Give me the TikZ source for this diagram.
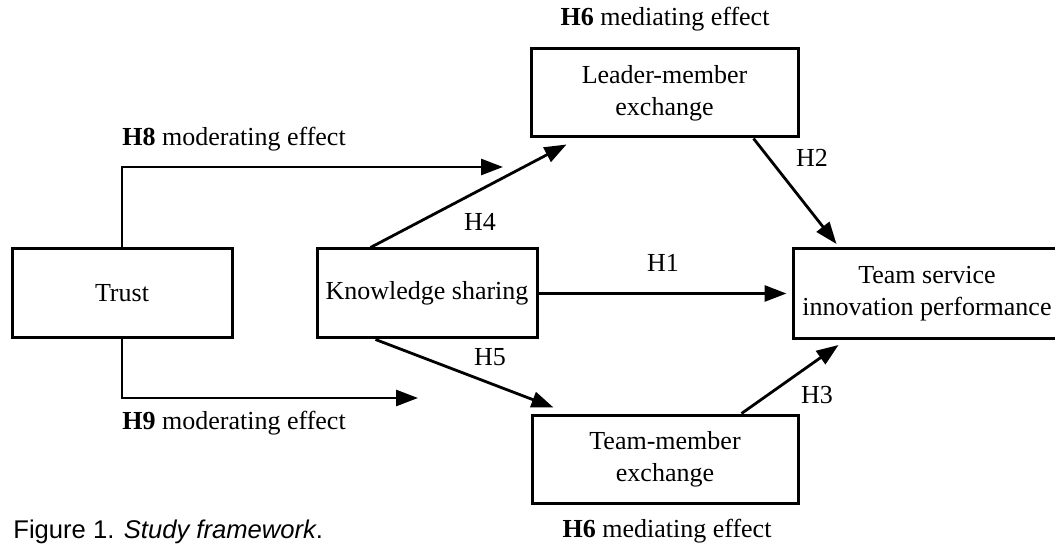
\documentclass[tikz,border=0pt]{standalone}
\usepackage{fontspec}
\setmainfont{Liberation Serif}
\newfontfamily\capfont{Liberation Sans}
\usetikzlibrary{arrows.meta,calc}
\begin{document}
\begin{tikzpicture}[x=0.5pt,y=-0.5pt,
  box/.style={draw,line width=1.5pt,inner sep=0pt,align=center,
    font=\fontsize{13}{16}\selectfont},
  arr/.style={line width=1.4pt,-{Triangle[length=11pt,width=8pt]}},
  lbl/.style={font=\fontsize{13}{16}\selectfont,inner sep=0pt}]
\useasboundingbox (0,0) rectangle (1055,545);

% constructs
\node[box,minimum width=110pt,minimum height=44.5pt] (trust) at (122,293.5) {Trust};
\node[box,minimum width=110pt,minimum height=44.5pt] (ks) at (427,293.5) {Knowledge sharing};
\node[box,minimum width=133.5pt,minimum height=44pt] (lmx) at (664.5,93) {Leader-member\\exchange};
\node[box,minimum width=133pt,minimum height=44pt] (tmx) at (665,459) {Team-member\\exchange};
\node[box,minimum width=134pt,minimum height=45pt] (tsip) at (927,293.5) {Team service\\innovation performance};

% moderating paths from trust
\coordinate (h8end) at (503,167);
\coordinate (h9end) at (418,398);
\draw[arr] (trust.north) |- (h8end);
\draw[arr] (trust.south) |- (h9end);

% hypothesised paths
\draw[arr] (ks.east) -- ($(tsip.west)+(-5,0)$);
\draw[arr] ($(ks.north west)+(55,0)$) -- ($(lmx.south west)+(37,6)$);
\draw[arr] ($(ks.south west)+(60,0)$) -- ($(tmx.north west)+(23,-6)$);
\draw[arr] ($(lmx.south west)+(224,0)$) -- ($(tsip.north west)+(45,-3)$);
\draw[arr] ($(tmx.north west)+(211,0)$) -- ($(tsip.south west)+(47,5)$);

% path labels
\node[lbl] (lh1) at (663,263) {H1};
\node[lbl] (lh2) at (812,158) {H2};
\node[lbl] (lh3) at (817,395) {H3};
\node[lbl] (lh4) at (480,222) {H4};
\node[lbl] (lh5) at (490,357) {H5};
\node[lbl,anchor=base west] (lh8) at (122,146) {\textbf{H8} moderating effect};
\node[lbl,anchor=base west] (lh9) at (122,429) {\textbf{H9} moderating effect};
\node[lbl,anchor=base] (lh6a) at (665,26) {\textbf{H6} mediating effect};
\node[lbl,anchor=base] (lh6b) at (667,537) {\textbf{H6} mediating effect};

% caption
\node[anchor=base west,inner sep=0pt,font=\capfont\fontsize{12.8}{14}\selectfont] (cap)
  at (13,538) {Figure 1. \textit{Study framework}.};
\end{tikzpicture}
\end{document}
